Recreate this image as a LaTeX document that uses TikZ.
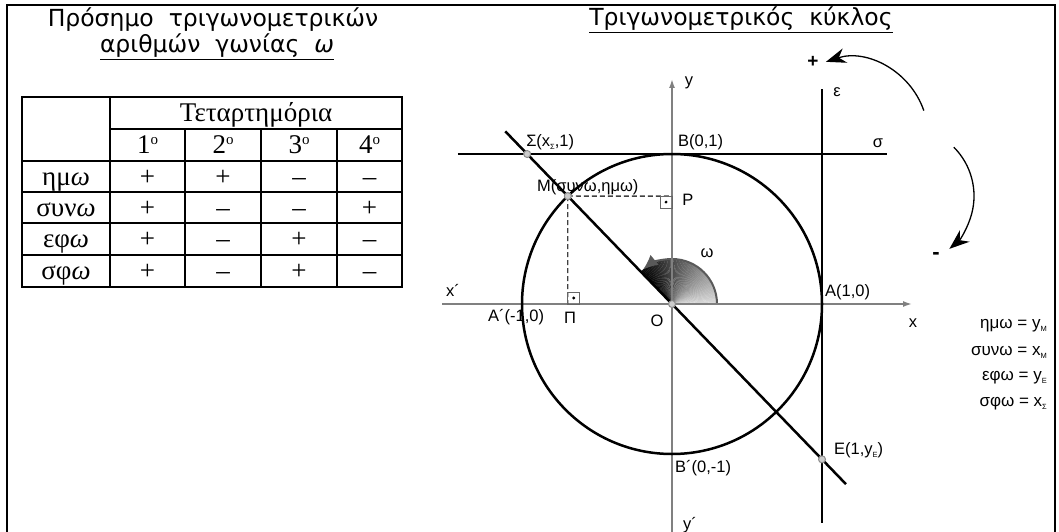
\documentclass[tikz,border=0pt]{standalone}
\usepackage{fontspec}
\setmainfont{Liberation Serif}
\newfontfamily\titlefont{DejaVu Sans}
\newfontfamily\labelfont{Liberation Sans}
\usetikzlibrary{arrows.meta,positioning}
\newcommand{\lsub}[1]{\raisebox{-0.35ex}{\fontsize{7.5}{7.5}\selectfont #1}}
\newcommand{\ord}[1]{#1\raisebox{0.75ex}{\fontsize{15}{15}\selectfont o}}

\begin{document}
\begin{tikzpicture}[x=1pt, y=1pt,
    title/.style={font=\titlefont\fontsize{23.5}{27}\selectfont, inner sep=0pt},
    cell/.style={font=\fontsize{27}{30}\selectfont, inner sep=0pt,
        text height=20pt, text depth=3pt},
    grid/.style={line width=2pt},
    lbl/.style={font=\labelfont\fontsize{16.5}{19}\selectfont, inner sep=0pt},
    eqn/.style={font=\labelfont\fontsize{17}{19}\selectfont, inner sep=0pt, anchor=east},
    axis/.style={draw=black!50, line width=1.6pt, -{Latex[length=9pt,width=6pt]}},
    tline/.style={line width=2.5pt},
    guide/.style={line width=1.3pt, draw=black!75, dash pattern=on 5pt off 3pt},
    rightang/.style={line width=0.8pt, draw=black!60},
    dotpt/.style={circle, draw=black!45, fill=black!20, line width=1pt,
        inner sep=0pt, minimum size=7pt},
    turn/.style={line width=1.3pt, -{Stealth[length=20pt,width=15pt]}}]

    \useasboundingbox (0,0) rectangle (1059,-532);

    % ====== Frame ======
    \draw[line width=2.5pt] (7,-532) -- (7,-5) -- (1055,-5) -- (1055,-532);

    % ====== Titles ======
    \node[title] (signhead)  at (213,-20) {Πρόσημο~~τριγωνομετρικών};
    \node[title] (signhead2) at (217,-47) {\underline{αριθμών~~γωνίας~~\textit{ω}}};
    \node[title] (circhead)  at (741,-20) {\underline{Τριγωνομετρικός~~κύκλος}};

    % ====== Sign table ======
    \draw[grid] (22,-97) rectangle (402,-287);
    \draw[grid] (110,-97) -- (110,-287);
    \draw[grid] (110,-129) -- (402,-129);
    \draw[grid] (185,-129) -- (185,-287);
    \draw[grid] (261,-129) -- (261,-287);
    \draw[grid] (337,-129) -- (337,-287);
    \draw[grid] (22,-161) -- (402,-161);
    \draw[grid] (22,-192) -- (402,-192);
    \draw[grid] (22,-223) -- (402,-223);
    \draw[grid] (22,-255) -- (402,-255);

    \node[cell] (quad) at (256,-113) {Τεταρτημόρια};
    \node[cell] (q1) at (147.5,-145) {\ord{1}};
    \node[cell] (q2) at (223,-145) {\ord{2}};
    \node[cell] (q3) at (299,-145) {\ord{3}};
    \node[cell] (q4) at (369.5,-145) {\ord{4}};

    \node[cell] (sinrow) at (66,-176.5) {ημ\textit{ω}};
    \node[cell] (cosrow) at (66,-207.5) {συν\textit{ω}};
    \node[cell] (tanrow) at (66,-239) {εφ\textit{ω}};
    \node[cell] (cotrow) at (66,-271) {σφ\textit{ω}};

    \node[cell] (sin1) at (147.5,-176.5) {+};  \node[cell] (sin2) at (223,-176.5) {+};
    \node[cell] (sin3) at (299,-176.5) {–};    \node[cell] (sin4) at (369.5,-176.5) {–};
    \node[cell] (cos1) at (147.5,-207.5) {+};  \node[cell] (cos2) at (223,-207.5) {–};
    \node[cell] (cos3) at (299,-207.5) {–};    \node[cell] (cos4) at (369.5,-207.5) {+};
    \node[cell] (tan1) at (147.5,-239) {+};    \node[cell] (tan2) at (223,-239) {–};
    \node[cell] (tan3) at (299,-239) {+};      \node[cell] (tan4) at (369.5,-239) {–};
    \node[cell] (cot1) at (147.5,-271) {+};    \node[cell] (cot2) at (223,-271) {–};
    \node[cell] (cot3) at (299,-271) {+};      \node[cell] (cot4) at (369.5,-271) {–};

    % ====== Unit circle ======
    \begin{scope}[shift={(672,-304)}, x=150pt, y=150pt]
        \coordinate (O) at (0,0);
        \coordinate (M) at (134:1);
        \coordinate (S) at (-0.9657,1);
        \coordinate (E) at (1,-1.0355);
        \coordinate (P) at (0,0.7193);
        \coordinate (Pi) at (-0.6947,0);
        \coordinate (xstart) at (-1.533,0);
        \coordinate (xend) at (1.6,0);
        \coordinate (ystart) at (0,-1.53);
        \coordinate (yend) at (0,1.5);
        \coordinate (sigl) at (-1.427,1);
        \coordinate (sigr) at (1.433,1);
        \coordinate (epst) at (1,1.433);
        \coordinate (epsb) at (1,-1.46);
        \coordinate (dtop) at (134:1.6);
        \coordinate (dbot) at (134:-1.67);

        % angle omega
        \foreach \a [evaluate=\a as \p using int(15+85*\a/134)] in {0,2,...,132}
            \fill[black!\p] (O) -- (\a:0.3) arc[start angle=\a, end angle=\a+2.3, radius=0.3] -- cycle;
        \draw[black!65, line width=2pt, -{Latex[length=15pt,width=13pt]}]
            (0.3,0) arc[start angle=0, end angle=130, radius=0.3];

        \draw[axis] (xstart) -- (xend);
        \draw[axis] (ystart) -- (yend);
        \draw[guide] (M) -- (P);
        \draw[guide] (M) -- (Pi);
        \draw[rightang] (P) rectangle ++(-0.08,-0.08);
        \fill (P) ++(-0.04,-0.04) circle[radius=1.6pt];
        \draw[rightang] (Pi) rectangle ++(0.08,0.08);
        \fill (Pi) ++(0.04,0.04) circle[radius=1.6pt];

        \draw[tline] (O) circle[radius=1];
        \draw[tline] (sigl) -- (sigr);
        \draw[tline] (epst) -- (epsb);
        \draw[tline] (dtop) -- (dbot);

        \node[dotpt] (Sdot) at (S) {};
        \node[dotpt] (Mdot) at (M) {};
        \node[dotpt] (Odot) at (O) {};
        \node[dotpt] (Edot) at (E) {};

        % labels
        \node[lbl] (ylbl) at (0.113,1.473) {y};
        \node[lbl] (xlbl) at (1.607,-0.127) {x};
        \node[lbl] (xplbl) at (-1.46,0.093) {x´};
        \node[lbl] (yplbl) at (0.12,-1.473) {y´};
        \node[lbl] (elbl) at (1.1,1.413) {ε};
        \node[lbl] (slbl) at (1.373,1.073) {σ};
        \node[lbl, anchor=west] (Slbl) at (-0.973,1.08) {Σ(x\lsub{Σ},1)};
        \node[lbl, anchor=west] (Blbl) at (0.04,1.08) {B(0,1)};
        \node[lbl, anchor=west] (Mlbl) at (-0.9,0.78) {M(συνω,ημω)};
        \node[lbl, anchor=west] (Plbl) at (0.067,0.693) {P};
        \node[lbl] (wlbl) at (0.233,0.34) {ω};
        \node[lbl, anchor=west] (Aplbl) at (-1.227,-0.087) {A´(-1,0)};
        \node[lbl] (Pilbl) at (-0.68,-0.093) {Π};
        \node[lbl] (Olbl) at (-0.1,-0.113) {O};
        \node[lbl, anchor=west] (Albl) at (1.02,0.08) {A(1,0)};
        \node[lbl, anchor=west] (Bplbl) at (0.02,-1.093) {B´(0,-1)};
        \node[lbl, anchor=west] (Elbl) at (1.08,-0.973) {E(1,y\lsub{E})};
    \end{scope}

    % ====== Direction of rotation ======
    \node[lbl, font=\labelfont\bfseries\fontsize{19}{19}\selectfont] (plus) at (813,-62) {+};
    \node[lbl, font=\labelfont\bfseries\fontsize{22}{22}\selectfont] (minus) at (936,-256) {-};
    \coordinate (upstart) at (923.8,-110.6);
    \coordinate (lowstart) at (953.8,-147.2);
    \draw[turn] (upstart) arc[start angle=19, end angle=108, radius=78];
    \draw[turn] (lowstart) arc[start angle=45, end angle=-50, radius=69];

    % ====== Definitions ======
    \node[eqn] (sineq) at (1047,-326) {ημω = y\lsub{M}};
    \node[eqn] (coseq) at (1047,-352) {συνω = x\lsub{M}};
    \node[eqn] (taneq) at (1047,-378) {εφω = y\lsub{E}};
    \node[eqn] (coteq) at (1047,-404) {σφω = x\lsub{Σ}};
\end{tikzpicture}
\end{document}
